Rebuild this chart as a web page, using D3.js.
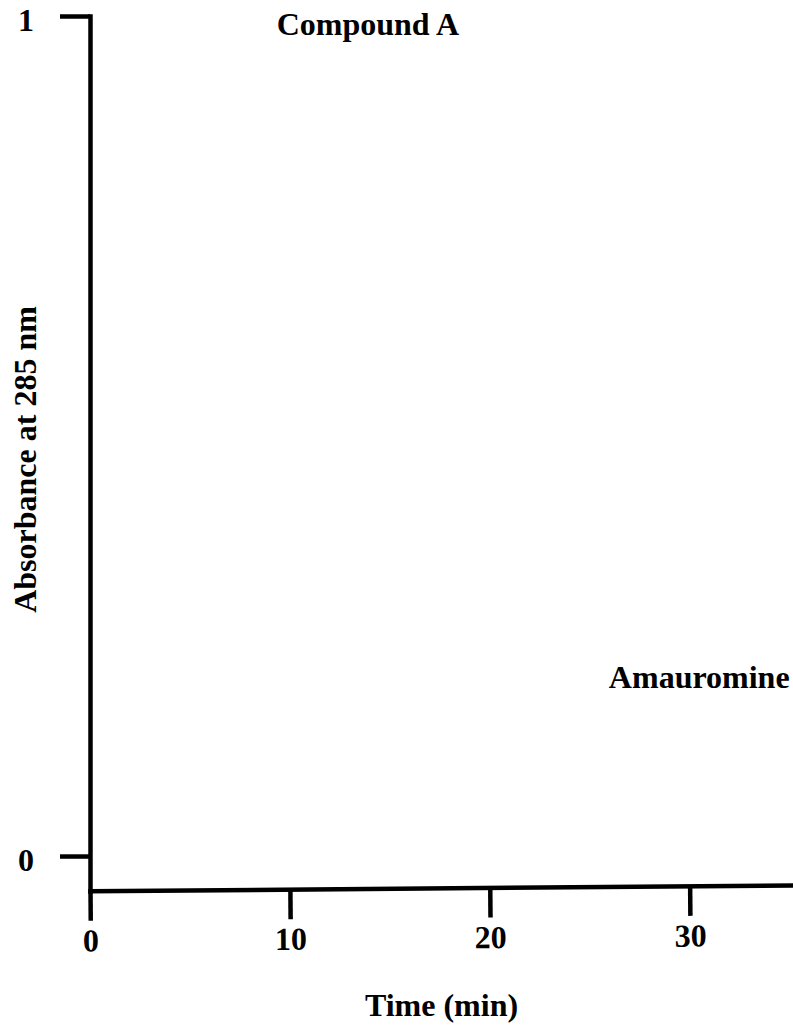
<!DOCTYPE html>
<html>
<head>
<meta charset="utf-8">
<script src="https://cdn.jsdelivr.net/npm/d3@7"></script>
<style>
  html, body { margin: 0; padding: 0; background: #fff; }
  svg { display: block; }
  text { font-family: "Liberation Serif", "Times New Roman", serif; font-weight: bold; fill: #000; }
</style>
</head>
<body>
<svg id="chart" width="793" height="1025"></svg>
<script>
// Axis ticks
const xTicks = [0, 10, 20, 30];
const yTicks = [0, 1];

// Peak labels: name, retention time (min), label height (absorbance)
const peakNames = ["Compound A", "Amauromine"];
const peakTimes = [13.9, 35.0];
const peakLevels = [0.977, 0.2];
const peakAnchors = ["middle", "end"];

const xTitle = "Time (min)";
const yTitle = "Absorbance at 285 nm";

const svg = d3.select("#chart");
const plotLeft = 90, plotRight = 793, plotTop = 16, plotBottom = 890.8;

const x = d3.scaleLinear().domain([0, 35.17]).range([plotLeft, plotRight]);
const y = d3.scaleLinear().domain([-0.0414, 1]).range([plotBottom, plotTop]);

const strokeW = 4.5;
const fontSize = 32;

// X axis (the baseline runs very slightly upward to the right)
const xAxis = d3.axisBottom(x)
  .tickValues(xTicks)
  .tickFormat(d3.format("d"))
  .tickSize(30)
  .tickSizeOuter(0)
  .tickPadding(8);

const gx = svg.append("g")
  .attr("transform", `translate(0,${plotBottom}) rotate(-0.47,${plotLeft},0)`)
  .call(xAxis);
gx.select(".domain").attr("stroke", "#000").attr("stroke-width", strokeW).attr("stroke-linecap", "square");
gx.selectAll(".tick line").attr("stroke", "#000").attr("stroke-width", strokeW);
gx.selectAll(".tick text")
  .attr("font-size", fontSize)
  .attr("font-family", "Liberation Serif, Times New Roman, serif")
  .attr("font-weight", "bold")
  .attr("fill", "#000");

// Y axis
const yAxis = d3.axisLeft(y)
  .tickValues(yTicks)
  .tickFormat(d3.format("d"))
  .tickSize(30)
  .tickSizeOuter(0)
  .tickPadding(26);

const gy = svg.append("g")
  .attr("transform", `translate(${plotLeft},0)`)
  .call(yAxis);
gy.select(".domain").attr("stroke", "#000").attr("stroke-width", strokeW).attr("stroke-linecap", "square");
gy.selectAll(".tick line").attr("stroke", "#000").attr("stroke-width", strokeW);
gy.selectAll(".tick text")
  .attr("font-size", fontSize)
  .attr("font-family", "Liberation Serif, Times New Roman, serif")
  .attr("font-weight", "bold")
  .attr("fill", "#000")
  .attr("dy", "0.45em");

// Peak labels
svg.append("g")
  .selectAll("text")
  .data(peakNames)
  .join("text")
  .attr("x", (d, i) => x(peakTimes[i]))
  .attr("y", (d, i) => y(peakLevels[i]))
  .attr("text-anchor", (d, i) => peakAnchors[i])
  .attr("font-size", fontSize)
  .text(d => d);

// Axis titles
svg.append("text")
  .attr("x", (plotLeft + plotRight) / 2)
  .attr("y", 1016)
  .attr("text-anchor", "middle")
  .attr("font-size", fontSize)
  .text(xTitle);

svg.append("text")
  .attr("transform", `translate(36,${(302 + 617) / 2}) rotate(-90)`)
  .attr("text-anchor", "middle")
  .attr("font-size", fontSize)
  .text(yTitle);
</script>
</body>
</html>
